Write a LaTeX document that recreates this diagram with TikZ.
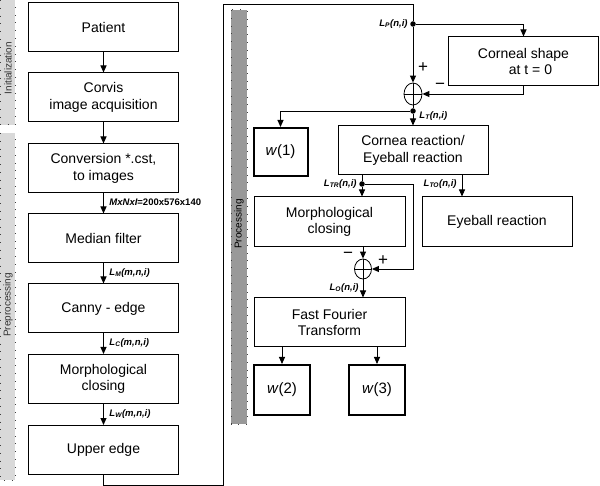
\documentclass[tikz,border=0pt]{standalone}
\usepackage{fontspec}
\setmainfont{Liberation Sans}
\usetikzlibrary{arrows.meta,shapes.geometric}
\newcommand{\Lsig}[2]{L\textsubscript{#1}(#2)}
\begin{document}
\begin{tikzpicture}[x=1pt,y=-1pt,draw=black!100,>={Triangle[length=7pt,width=6pt]},line width=0.9pt]
 	\def \colx{103.5}
 	\tikzstyle{b-node}=[rectangle,draw=black!100,line width=1pt,minimum width=150pt,minimum height=49pt,inner sep=0pt,align=center,font=\fontsize{14}{16.5}\selectfont]
 	\tikzstyle{w-node}=[rectangle,draw=black!100,line width=2pt,minimum width=54pt,minimum height=48pt,inner sep=0pt,font=\fontsize{15}{17}\selectfont]
 	\tikzstyle{s-node}=[ellipse,draw=black!100,line width=0.8pt,minimum width=18pt,minimum height=22pt,inner sep=0pt]
 	\tikzstyle{dot}=[circle,fill=black,inner sep=0pt,minimum size=5.5pt]
 	\tikzstyle{annot}=[font=\fontsize{9.5}{11}\selectfont\bfseries\itshape,inner sep=1pt]
 	\tikzstyle{sign}=[font=\fontsize{17}{17}\selectfont,inner sep=0pt]
 	\tikzstyle{bar}=[draw=black!75,line width=1pt,dash pattern=on 0.8pt off 7pt]
 	\tikzstyle{bar-label}=[rotate=90,font=\fontsize{10}{11}\selectfont,text=black!80]
 	\useasboundingbox (0,0) rectangle (600,486);
 	% stage bars
 	\fill[black!15] (0,0) rectangle (15,125);
 	\draw[bar] (0,0) -- (0,125) -- (15,125) -- (15,0);
 	\fill[black!15] (0,133) rectangle (15,480);
 	\draw[bar] (0,133) -- (0,480) -- (15,480) -- (15,133);
 	\fill[black!40] (231,10) rectangle (247,424);
 	\draw[bar] (231,10) rectangle (247,424);
 	\node[bar-label] (init-label) at (8,68) {Initialization};
 	\node[bar-label] (pre-label) at (8,305) {Preprocessing};
 	\node[bar-label,text=black] (proc-label) at (239,224) {Processing};
 	% left column
 	\node[b-node] (patient)	at (\colx,27.5)	{Patient};
 	\node[b-node] (corvis)	at (\colx,97.5)	{Corvis\\image acquisition};
 	\node[b-node] (convert)	at (\colx,168.5)	{Conversion *.cst,\\to images};
 	\node[b-node] (median)	at (\colx,238.5)	{Median filter};
 	\node[b-node] (canny)	at (\colx,308.5)	{Canny - edge};
 	\node[b-node] (closing)	at (\colx,379)	{Morphological\\closing};
 	\node[b-node] (upper)	at (\colx,450)	{Upper edge};
 	\path[->] (patient)	edge	(corvis)
		(corvis)	edge	(convert)
		(convert)	edge	(median)
		(median)	edge	(canny)
		(canny)	edge	(closing)
		(closing)	edge	(upper);
 	\node[annot,anchor=west] (size-label) at (108,202) {MxNxI\upshape=200x576x140};
 	\node[annot,anchor=west] (lm-label) at (108,273) {\Lsig{M}{m,n,i}};
 	\node[annot,anchor=west] (lc-label) at (108,343) {\Lsig{C}{m,n,i}};
 	\node[annot,anchor=west] (lw-label) at (108,414) {\Lsig{W}{m,n,i}};
 	% right column
 	\node[dot] (jp) at (413,24) {};
 	\node[b-node] (corneal)	at (523.5,61.5)	{Corneal shape\\\quad at t = 0};
 	\node[s-node] (sum1) at (413,94) {};
 	\node[dot] (jt) at (413,111) {};
 	\node[w-node] (w1) at (280.5,152) {\textit{w}(1)};
 	\node[b-node] (cornea)	at (413,150.5)	{Cornea reaction/\\Eyeball reaction};
 	\node[dot] (jtr) at (362,184) {};
 	\coordinate (bend) at (413,184);
 	\coordinate (lto) at (462,175);
 	\node[b-node,minimum width=151pt,minimum height=50pt] (morph)	at (329.5,222)	{Morphological\\closing};
 	\node[b-node,minimum height=50pt] (eyeball)	at (497,222)	{Eyeball reaction};
 	\node[s-node,minimum width=17pt,minimum height=20pt] (sum2) at (363,269) {};
 	\node[b-node,minimum width=151pt] (fft)	at (329.5,322.5)	{Fast Fourier\\Transform};
 	\node[w-node,minimum width=56pt,minimum height=50pt] (w2) at (282,390) {\textit{w}(2)};
 	\node[w-node,minimum width=56pt,minimum height=50pt] (w3) at (377,390) {\textit{w}(3)};
 	\draw[line width=0.8pt] (sum1.north) -- (sum1.south) (sum1.west) -- (sum1.east);
 	\draw[line width=0.8pt] (sum2.north) -- (sum2.south) (sum2.west) -- (sum2.east);
 	\draw (upper.south) -- ++(0,10) -| (223,4) -| (jp);
 	\draw[->] (jp) -- (sum1.north);
 	\draw[->] (jp) -| (corneal.north);
 	\draw[->] (corneal.south) |- (sum1.east);
 	\draw (sum1.south) -- (jt);
 	\draw[->] (jt) -- (cornea.north);
 	\draw[->] (jt) -| (w1.north);
 	\draw (jtr |- cornea.south) -- (jtr);
 	\draw[->] (jtr) -- (jtr |- morph.north);
 	\draw[->] (jtr) -- (bend) |- (sum2.east);
 	\draw[->] (lto) -- (lto |- eyeball.north);
 	\draw[->] (sum2 |- morph.south) -- (sum2.north);
 	\draw[->] (sum2.south) -- (sum2 |- fft.north);
 	\draw[->] (fft.south -| w2) -- (w2.north);
 	\draw[->] (fft.south -| w3) -- (w3.north);
 	\node[annot,anchor=east] (lp-label) at (409,24) {\Lsig{P}{n,i}};
 	\node[annot,anchor=west] (lt-label) at (418,116) {\Lsig{T}{n,i}};
 	\node[annot,anchor=east] (ltr-label) at (358,184) {\Lsig{TR}{n,i}};
 	\node[annot,anchor=east] (lto-label) at (458,184) {\Lsig{TO}{n,i}};
 	\node[annot,anchor=east] (lo-label) at (360,288) {\Lsig{O}{n,i}};
 	\node[sign] (plus1) at (423,68) {+};
 	\node[sign] (minus1) at (440,86) {−};
 	\node[sign] (minus2) at (348,255) {−};
 	\node[sign] (plus2) at (383,261) {+};
\end{tikzpicture}
\end{document}
